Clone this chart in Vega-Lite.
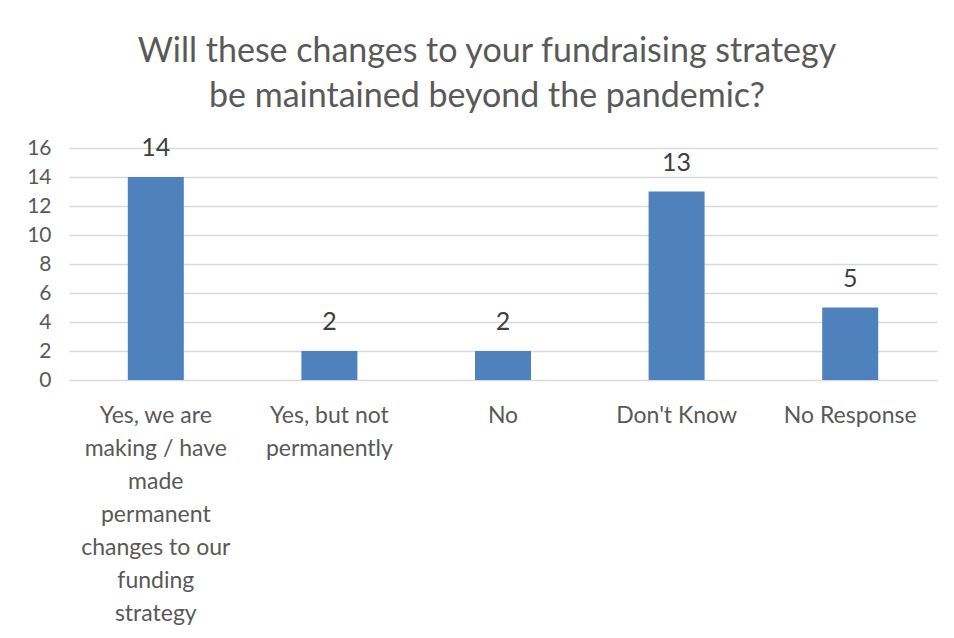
{
  "$schema": "https://vega.github.io/schema/vega-lite/v6.json",
  "width": 868,
  "height": 232,
  "autosize": "none",
  "padding": {"left": 69, "top": 148, "right": 17, "bottom": 258},
  "background": "white",
  "title": {
    "text": ["Will these changes to your fundraising strategy", "be maintained beyond the pandemic?"],
    "font": "Lato",
    "fontSize": 34,
    "fontWeight": "normal",
    "color": "#595959",
    "lineHeight": 45,
    "anchor": "middle",
    "offset": 22,
    "dx": -16
  },
  "data": {
    "values": [
      {"category": "Yes, we are making / have made permanent changes to our funding strategy", "count": 14},
      {"category": "Yes, but not permanently", "count": 2},
      {"category": "No", "count": 2},
      {"category": "Don't Know", "count": 13},
      {"category": "No Response", "count": 5}
    ]
  },
  "encoding": {
    "x": {
      "field": "category",
      "type": "nominal",
      "sort": null,
      "title": null,
      "scale": {"paddingInner": 0, "paddingOuter": 0},
      "axis": {
        "labelAngle": 0,
        "labelFont": "Lato",
        "labelFontSize": 23,
        "labelColor": "#595959",
        "labelLineHeight": 33,
        "labelPadding": 24,
        "labelLimit": 0,
        "ticks": false,
        "domain": false,
        "labelExpr": "datum.value == 'Yes, we are making / have made permanent changes to our funding strategy' ? ['Yes, we are', 'making / have', 'made', 'permanent', 'changes to our', 'funding', 'strategy'] : datum.value == 'Yes, but not permanently' ? ['Yes, but not', 'permanently'] : datum.value"
      }
    },
    "y": {
      "field": "count",
      "type": "quantitative",
      "title": null,
      "scale": {"domain": [0, 16]},
      "axis": {
        "values": [0, 2, 4, 6, 8, 10, 12, 14, 16],
        "labelFont": "Lato",
        "labelFontSize": 21,
        "labelColor": "#595959",
        "labelPadding": 18,
        "ticks": false,
        "domain": false,
        "gridColor": "#d9d9d9",
        "gridWidth": 1.5
      }
    }
  },
  "layer": [
    {"mark": {"type": "bar", "size": 56, "color": "#4F81BD"}},
    {
      "mark": {"type": "text", "dy": -16, "baseline": "bottom", "font": "Lato", "fontSize": 25, "color": "#404040"},
      "encoding": {"text": {"field": "count", "type": "quantitative"}}
    }
  ],
  "config": {"view": {"stroke": null}}
}
